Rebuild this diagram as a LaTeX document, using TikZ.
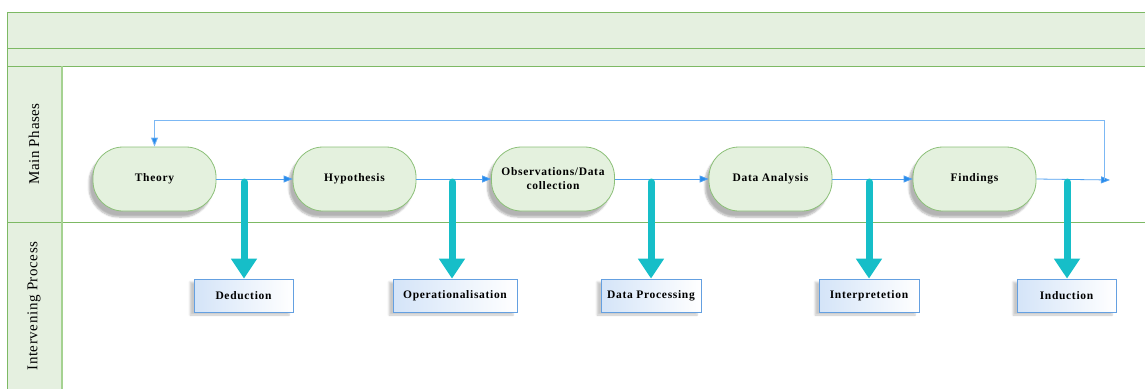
\documentclass[tikz,border=0pt]{standalone}
\usepackage{fontspec}
\setmainfont{Liberation Serif}
\usetikzlibrary{arrows.meta,shadows.blur}
\definecolor{bandfill}{RGB}{229,240,224}
\definecolor{bandline}{RGB}{125,185,100}
\definecolor{laneline}{RGB}{165,210,145}
\definecolor{stadfill}{RGB}{228,241,222}
\definecolor{stadline}{RGB}{140,192,120}
\definecolor{conn}{RGB}{80,160,240}
\definecolor{connhead}{RGB}{40,140,235}
\definecolor{teal}{RGB}{22,190,200}
\definecolor{boxline}{RGB}{100,160,225}
\definecolor{boxblue}{RGB}{212,228,248}
\tikzset{
  phase/.style={rounded corners=30pt, draw=stadline, line width=0.8pt, fill=stadfill,
    minimum width=123pt, minimum height=64pt, align=center, inner sep=2pt,
    font=\fontsize{11.5}{14}\selectfont\bfseries\addfontfeatures{LetterSpace=6},
    blur shadow={shadow xshift=-4pt, shadow yshift=-6pt, shadow opacity=30, shadow blur steps=6}},
  procbox/.style={draw=boxline, line width=0.8pt, left color=boxblue, right color=white,
    minimum height=33pt, align=center, inner sep=2pt,
    font=\fontsize{11.5}{13}\selectfont\bfseries\addfontfeatures{LetterSpace=6},
    blur shadow={shadow xshift=-4pt, shadow yshift=-3pt, shadow opacity=22, shadow blur steps=5}},
  flow/.style={draw=conn, line width=0.8pt, -{Triangle[width=7pt,length=9pt,fill=connhead]}},
  bigarrow/.style={draw=teal, line width=7pt, line cap=round, -{Triangle[width=25pt,length=20pt]}},
  lanelabel/.style={rotate=90, font=\fontsize{15}{17}\selectfont\addfontfeatures{LetterSpace=4}},
}
\begin{document}
\begin{tikzpicture}[x=1pt,y=-1pt]
\useasboundingbox (0,0) rectangle (1145,388);
% bands and lanes
\fill[bandfill] (7,12) rectangle (1146,66);
\fill[bandfill] (7,66) rectangle (62,389);
\draw[bandline, line width=1pt] (7,12) -- (1146,12);
\draw[bandline, line width=1pt] (7,48) -- (1146,48);
\draw[bandline, line width=1pt] (7,66) -- (1146,66);
\draw[bandline, line width=1pt] (7,222) -- (1146,222);
\draw[bandline, line width=1pt] (7,12) -- (7,389);
\draw[laneline, line width=1.2pt] (62,66) -- (62,389);
\node[lanelabel] (lane1) at (34,144) {Main Phases};
\node[lanelabel] (lane2) at (34,306) {Intervening Process};
% phases
\node[phase] (theory) at (154.5,179) {Theory};
\node[phase] (hyp) at (354.5,179) {Hypothesis};
\node[phase] (obs) at (553,179) {Observations/Data\\collection};
\node[phase] (da) at (770.5,179) {Data Analysis};
\node[phase] (find) at (974.5,179) {Findings};
\coordinate (end) at (1110,180);
\coordinate (fb) at (1104,180);
% flows
\draw[flow] (theory.east) -- (hyp.west);
\draw[flow] (hyp.east) -- (obs.west);
\draw[flow] (obs.east) -- (da.west);
\draw[flow] (da.east) -- (find.west);
\draw[flow] (find.east) -- (end);
\draw[flow, draw=conn!75] (fb) -- (1104,120) -| (theory.north);
% process boxes
\node[procbox, minimum width=99pt] (ded) at (243.5,295.5) {Deduction};
\node[procbox, minimum width=124pt] (op) at (455,295.5) {Operationalisation};
\node[procbox, minimum width=100pt] (dp) at (651,295.5) {Data Processing};
\node[procbox, minimum width=100pt] (int) at (869,295.5) {Interpretetion};
\node[procbox, minimum width=99pt] (ind) at (1066.5,295.5) {Induction};
% teal arrows
\coordinate (s1) at (244,182);
\coordinate (s2) at (452,182);
\coordinate (s3) at (651,182);
\coordinate (s4) at (869,182);
\coordinate (s5) at (1067,182);
\draw[bigarrow] (s1) -- (s1 |- ded.north);
\draw[bigarrow] (s2) -- (s2 |- op.north);
\draw[bigarrow] (s3) -- (s3 |- dp.north);
\draw[bigarrow] (s4) -- (s4 |- int.north);
\draw[bigarrow] (s5) -- (s5 |- ind.north);
\end{tikzpicture}
\end{document}
